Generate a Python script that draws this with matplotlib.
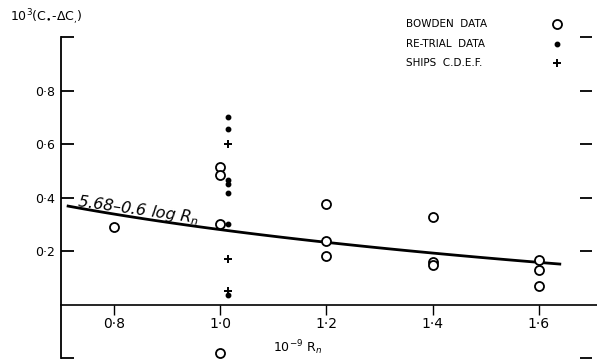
import numpy as np
import matplotlib.pyplot as plt

# Bowden data (open circles)
bowden_x = [0.8, 1.0, 1.0, 1.0, 1.0, 1.2, 1.2, 1.2, 1.4, 1.4, 1.4, 1.6, 1.6, 1.6]
bowden_y = [0.29, 0.514, 0.484, 0.30, -0.18, 0.375, 0.238, 0.18, 0.328, 0.16, 0.149, 0.165, 0.13, 0.07]

# re-trial data (dots)
retrial_x = [1.014] * 7
retrial_y = [0.70, 0.655, 0.465, 0.45, 0.417, 0.30, 0.035]

# ships C, D, E, F (crosses)
ships_x = [1.014, 1.014, 1.014]
ships_y = [0.60, 0.17, 0.05]

# fitted line 5.68 - 0.6 log Rn, Rn = 1e9 * x
fit_x = np.linspace(0.711, 1.642, 100)
fit_y = 5.68 - 0.6 * np.log10(fit_x * 1e9)

xticks = [0.8, 1.0, 1.2, 1.4, 1.6]
xticklabels = ['0·8', '1·0', '1·2', '1·4', '1·6']
yticks = [-0.2, 0.2, 0.4, 0.6, 0.8, 1.0]
yticklabels = ['', '0·2', '0·4', '0·6', '0·8', '']

key_labels = ['BOWDEN  DATA', 'RE-TRIAL  DATA', 'SHIPS  C.D.E.F.']
key_y = [1.047, 0.972, 0.901]

plt.rcParams['font.family'] = 'DejaVu Sans'
fig = plt.figure(figsize=(5.97, 3.61), dpi=100)
ax = fig.add_axes([0.102, 0.0083, 0.8896, 0.8892])

circle = dict(marker='o', ms=6.5, mfc='white', mec='black', mew=1.3, ls='none')
dot = dict(marker='o', ms=3.2, color='black', ls='none')
cross = dict(marker='+', ms=6, mew=1.4, color='black', ls='none')

ax.plot(fit_x, fit_y, color='black', lw=2.0, solid_capstyle='butt')
ax.plot(bowden_x, bowden_y, **circle)
ax.plot(retrial_x, retrial_y, **dot)
ax.plot(ships_x, ships_y, **cross)

ax.set_xlim(0.7, 1.70)
ax.set_ylim(-0.195, 1.0)

for s in ['top', 'right', 'bottom']:
    ax.spines[s].set_visible(False)
ax.spines['left'].set_linewidth(1.3)

# x axis drawn along zero
ax.plot([0.7, 1.72], [0, 0], color='black', lw=1.2, clip_on=False)

ax.set_xticks(xticks)
ax.set_xticklabels(xticklabels, fontsize=9)
ax.set_yticks(yticks)
ax.set_yticklabels(yticklabels, fontsize=9)
ax.tick_params(axis='y', direction='in', length=9, width=1.3, left=True, right=True, pad=4)
ax.tick_params(axis='x', direction='out', length=7, width=1.0, pad=2)
ax.spines['bottom'].set_position(('data', 0))

ax.text(0.846, 0.354, '5.68–0.6 log R$_n$', fontsize=11.5, style='italic',
        rotation=-8, ha='center', va='center')

# key, top right
for lab, yy, st in zip(key_labels, key_y, [circle, dot, cross]):
    ax.text(1.35, yy, lab, fontsize=7.5, ha='left', va='center', clip_on=False)
    ax.plot([1.634], [yy], clip_on=False, **st)

fig.text(0.017, 0.953, '10$^3$(C$_{\\bullet}$-ΔC$_{,}$)', fontsize=9, ha='left', va='center')
fig.text(0.498, 0.036, '10$^{-9}$ R$_n$', fontsize=9, ha='center', va='center')

fig.savefig('out.png', dpi=100)
